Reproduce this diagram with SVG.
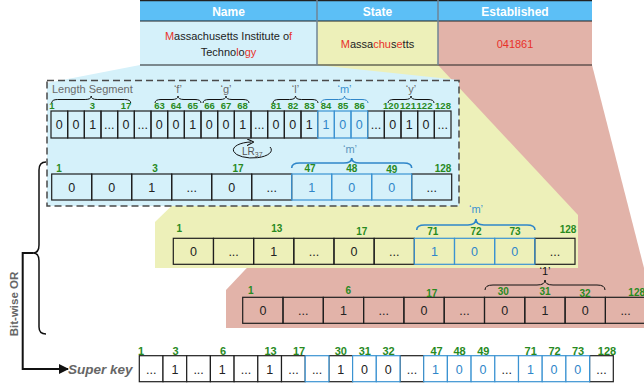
<svg xmlns="http://www.w3.org/2000/svg" width="644" height="389" viewBox="0 0 644 389">
<defs>
<style>
text{font-family:"Liberation Sans",Arial,Helvetica,sans-serif}
.c{fill:none;stroke:#1e1e1e;stroke-width:1.2}
.cb{fill:none;stroke:#3b93d2;stroke-width:1.2}
.cw{fill:#fff;stroke:#1e1e1e;stroke-width:1.2}
.cwb{fill:#fff;stroke:#3b93d2;stroke-width:1.2}
.t{font-size:12.5px;fill:#222;text-anchor:middle}
.tb{font-size:12.5px;fill:#2f86c9;text-anchor:middle}
.n{font-size:10px;font-weight:bold;fill:#288a1e;text-anchor:middle}
.n1{font-size:9.5px;font-weight:bold;fill:#288a1e;text-anchor:middle}
.ns{font-size:11px;font-weight:bold;fill:#288a1e;text-anchor:middle}
.br{fill:none;stroke:#111;stroke-width:1}
.brb{fill:none;stroke:#2f86c9;stroke-width:1.6}
.g{font-size:11px;fill:#6b6b6b}
.q{font-size:11px;fill:#6b6b6b;text-anchor:middle}
.qb{font-size:11px;fill:#3b93d2;text-anchor:middle}
.h{font-size:12px;font-weight:bold;fill:#fff;text-anchor:middle}
.r{fill:#e8312a}
</style>
<marker id="ah" viewBox="0 0 10 10" refX="9" refY="5" markerWidth="10" markerHeight="10" markerUnits="userSpaceOnUse" orient="auto">
<path d="M0,0 L10,5 L0,10 z" fill="#111"/>
</marker>
<marker id="ah2" viewBox="0 0 10 10" refX="6" refY="5" markerWidth="7" markerHeight="7" markerUnits="userSpaceOnUse" orient="auto">
<path d="M0,0 L10,5 L0,10" fill="none" stroke="#111" stroke-width="1.6"/>
</marker>
</defs>

<g id="regions">
<polygon points="438,65 592,65 644,268 644,328 226,328 226,290" fill="#e2b3a9"/>
<polygon points="317,65 438,65 578,215 578,268 155,268 155,222" fill="#edf0b9"/>
<polygon points="140,65 317,65 459,80 459,206 47,206 47,83" fill="#d5f1fa"/>
</g>

<g id="table">
<rect x="140" y="0" width="452" height="21" fill="#5cbff6"/>
<rect x="140" y="21" width="177" height="44" fill="#d5f1fa"/>
<rect x="317" y="21" width="121" height="44" fill="#edf0b9"/>
<rect x="438" y="21" width="154" height="44" fill="#e2b3a9"/>
<line x1="140" y1="0.6" x2="592" y2="0.6" stroke="#222" stroke-width="1.2"/>
<line x1="140" y1="21" x2="592" y2="21" stroke="#222" stroke-width="1.2"/>
<line x1="140" y1="65" x2="592" y2="65" stroke="#222" stroke-width="1.2"/>
<line x1="317" y1="0" x2="317" y2="65" stroke="#6f8496" stroke-width="1.5"/>
<line x1="438" y1="0" x2="438" y2="65" stroke="#6f8496" stroke-width="1.5"/>
<text class="h" x="228.5" y="15.5">Name</text>
<text class="h" x="377.5" y="15.5">State</text>
<text class="h" x="515" y="15.5">Established</text>
<text x="228.5" y="40" font-size="11" fill="#222" text-anchor="middle"><tspan class="r">M</tspan>assachusetts Institute o<tspan class="r">f</tspan></text>
<text x="228.5" y="55.5" font-size="11" fill="#222" text-anchor="middle">Techno<tspan class="r">l</tspan>o<tspan class="r">gy</tspan></text>
<text x="377.5" y="48" font-size="11" fill="#222" text-anchor="middle"><tspan class="r">M</tspan>assa<tspan class="r">chu</tspan>s<tspan class="r">e</tspan>tts</text>
<text x="515" y="48" font-size="11" fill="#e8312a" text-anchor="middle">041861</text>
</g>

<g id="segment-box">
<rect x="47" y="80.5" width="412" height="125.5" fill="none" stroke="#4a4a4a" stroke-width="1.5" stroke-dasharray="7,4"/>
</g>

<g id="array1">
<rect class="c" x="51" y="111" width="16.67" height="27"/>
<rect class="c" x="67.67" y="111" width="16.67" height="27"/>
<rect class="c" x="84.33" y="111" width="16.67" height="27"/>
<rect class="c" x="101" y="111" width="16.67" height="27"/>
<rect class="c" x="117.67" y="111" width="16.67" height="27"/>
<rect class="c" x="134.33" y="111" width="16.67" height="27"/>
<rect class="c" x="151" y="111" width="16.67" height="27"/>
<rect class="c" x="167.67" y="111" width="16.67" height="27"/>
<rect class="c" x="184.33" y="111" width="16.67" height="27"/>
<rect class="c" x="201" y="111" width="16.67" height="27"/>
<rect class="c" x="217.67" y="111" width="16.67" height="27"/>
<rect class="c" x="234.33" y="111" width="16.67" height="27"/>
<rect class="c" x="251" y="111" width="16.67" height="27"/>
<rect class="c" x="267.67" y="111" width="16.67" height="27"/>
<rect class="c" x="284.33" y="111" width="16.67" height="27"/>
<rect class="c" x="301" y="111" width="16.67" height="27"/>
<rect class="c" x="367.67" y="111" width="16.67" height="27"/>
<rect class="c" x="384.33" y="111" width="16.67" height="27"/>
<rect class="c" x="401" y="111" width="16.67" height="27"/>
<rect class="c" x="417.67" y="111" width="16.67" height="27"/>
<rect class="c" x="434.33" y="111" width="16.67" height="27"/>
<rect class="cb" x="317.67" y="111" width="16.67" height="27"/>
<rect class="cb" x="334.33" y="111" width="16.67" height="27"/>
<rect class="cb" x="351" y="111" width="16.67" height="27"/>
<text class="t" x="59.33" y="129">0</text>
<text class="t" x="76" y="129">0</text>
<text class="t" x="92.67" y="129">1</text>
<text class="t" x="109.33" y="129">...</text>
<text class="t" x="126" y="129">0</text>
<text class="t" x="142.67" y="129">...</text>
<text class="t" x="159.33" y="129">0</text>
<text class="t" x="176" y="129">0</text>
<text class="t" x="192.67" y="129">1</text>
<text class="t" x="209.33" y="129">0</text>
<text class="t" x="226" y="129">0</text>
<text class="t" x="242.67" y="129">1</text>
<text class="t" x="259.33" y="129">...</text>
<text class="t" x="276" y="129">0</text>
<text class="t" x="292.67" y="129">0</text>
<text class="t" x="309.33" y="129">1</text>
<text class="tb" x="326" y="129">1</text>
<text class="tb" x="342.67" y="129">0</text>
<text class="tb" x="359.33" y="129">0</text>
<text class="t" x="376" y="129">...</text>
<text class="t" x="392.67" y="129">0</text>
<text class="t" x="409.33" y="129">1</text>
<text class="t" x="426" y="129">0</text>
<text class="t" x="442.67" y="129">...</text>
<text class="n1" x="52" y="109">1</text>
<text class="n1" x="92.5" y="109">3</text>
<text class="n1" x="126" y="109">17</text>
<text class="n1" x="159.5" y="109">63</text>
<text class="n1" x="176" y="109">64</text>
<text class="n1" x="192.7" y="109">65</text>
<text class="n1" x="209.5" y="109">66</text>
<text class="n1" x="226" y="109">67</text>
<text class="n1" x="242.5" y="109">68</text>
<text class="n1" x="276" y="109">81</text>
<text class="n1" x="293" y="109">82</text>
<text class="n1" x="309.5" y="109">83</text>
<text class="n1" x="326" y="109">84</text>
<text class="n1" x="343" y="109">85</text>
<text class="n1" x="359.5" y="109">86</text>
<text class="n1" x="391" y="109">120</text>
<text class="n1" x="408" y="109">121</text>
<text class="n1" x="424.5" y="109">122</text>
<text class="n1" x="443" y="109">128</text>
<path class="br" d="M51.7,103 Q51.7,99.5 57.7,99.5 L85.2,99.5 Q91.2,99.5 91.2,96 Q91.2,99.5 97.2,99.5 L124.7,99.5 Q130.7,99.5 130.7,103"/>
<path class="br" d="M155,103 Q155,99.5 161,99.5 L172,99.5 Q178,99.5 178,96 Q178,99.5 184,99.5 L195,99.5 Q201,99.5 201,103"/>
<path class="br" d="M203,103 Q203,99.5 209,99.5 L220,99.5 Q226,99.5 226,96 Q226,99.5 232,99.5 L243,99.5 Q249,99.5 249,103"/>
<path class="br" d="M273,103 Q273,99.5 279,99.5 L289.5,99.5 Q295.5,99.5 295.5,96 Q295.5,99.5 301.5,99.5 L312,99.5 Q318,99.5 318,103"/>
<path class="brb" style="stroke-width:1" d="M321,103 Q321,99.5 327,99.5 L338.5,99.5 Q344.5,99.5 344.5,96 Q344.5,99.5 350.5,99.5 L362,99.5 Q368,99.5 368,103"/>
<path class="br" d="M388,103 Q388,99.5 394,99.5 L405,99.5 Q411,99.5 411,96 Q411,99.5 417,99.5 L428,99.5 Q434,99.5 434,103"/>
<text class="g" x="52" y="92.5">Length Segment</text>
<text class="q" x="178" y="93">‘f’</text>
<text class="q" x="226" y="93">‘g’</text>
<text class="q" x="295.5" y="93">‘l’</text>
<text class="qb" x="344.5" y="93">‘m’</text>
<text class="q" x="411" y="93">‘y’</text>
</g>

<g id="rotation">
<path d="M270,147 A19,8 0 1,1 251,142" fill="none" stroke="#111" stroke-width="1" marker-end="url(#ah2)"/>
<text x="242" y="155" font-size="10" fill="#555">LR<tspan font-size="7" dy="2">37</tspan></text>
</g>

<g id="array2">
<rect class="c" x="51.7" y="174" width="40" height="26"/>
<rect class="c" x="91.7" y="174" width="40" height="26"/>
<rect class="c" x="131.7" y="174" width="40" height="26"/>
<rect class="c" x="171.7" y="174" width="40" height="26"/>
<rect class="c" x="211.7" y="174" width="40" height="26"/>
<rect class="c" x="251.7" y="174" width="40" height="26"/>
<rect class="c" x="411.7" y="174" width="40" height="26"/>
<rect class="cb" x="291.7" y="174" width="40" height="26"/>
<rect class="cb" x="331.7" y="174" width="40" height="26"/>
<rect class="cb" x="371.7" y="174" width="40" height="26"/>
<text class="t" x="71.7" y="191.5">0</text>
<text class="t" x="111.7" y="191.5">0</text>
<text class="t" x="151.7" y="191.5">1</text>
<text class="t" x="191.7" y="191.5">...</text>
<text class="t" x="231.7" y="191.5">0</text>
<text class="t" x="271.7" y="191.5">...</text>
<text class="tb" x="311.7" y="191.5">1</text>
<text class="tb" x="351.7" y="191.5">0</text>
<text class="tb" x="391.7" y="191.5">0</text>
<text class="t" x="431.7" y="191.5">...</text>
<text class="n" x="59" y="171.5">1</text>
<text class="n" x="155" y="171.5">3</text>
<text class="n" x="238" y="171.5">17</text>
<text class="n" x="310" y="171.5">47</text>
<text class="n" x="351.7" y="171.5">48</text>
<text class="n" x="391.7" y="173">49</text>
<text class="n" x="443" y="171.5">128</text>
<path class="brb" d="M291.7,168 Q291.7,163 299.7,163 L343.7,163 Q351.7,163 351.7,158 Q351.7,163 359.7,163 L403.7,163 Q411.7,163 411.7,168"/>
<text class="q" x="350" y="153" style="fill:#5b95bd">‘m’</text>
</g>

<g id="array3">
<rect class="c" x="173.3" y="238.3" width="40.17" height="26"/>
<rect class="c" x="213.47" y="238.3" width="40.17" height="26"/>
<rect class="c" x="253.64" y="238.3" width="40.17" height="26"/>
<rect class="c" x="293.81" y="238.3" width="40.17" height="26"/>
<rect class="c" x="333.98" y="238.3" width="40.17" height="26"/>
<rect class="c" x="374.15" y="238.3" width="40.17" height="26"/>
<rect class="c" x="534.83" y="238.3" width="40.17" height="26"/>
<rect class="cb" x="414.32" y="238.3" width="40.17" height="26"/>
<rect class="cb" x="454.49" y="238.3" width="40.17" height="26"/>
<rect class="cb" x="494.66" y="238.3" width="40.17" height="26"/>
<text class="t" x="193.4" y="256">0</text>
<text class="t" x="233.6" y="256">...</text>
<text class="t" x="273.7" y="256">1</text>
<text class="t" x="313.9" y="256">...</text>
<text class="t" x="354.1" y="256">0</text>
<text class="t" x="394.2" y="256">...</text>
<text class="tb" x="434.4" y="256">1</text>
<text class="tb" x="474.6" y="256">0</text>
<text class="tb" x="514.8" y="256">0</text>
<text class="t" x="554.9" y="256">...</text>
<text class="n" x="179.3" y="232">1</text>
<text class="n" x="276.7" y="232">13</text>
<text class="n" x="361.7" y="235">17</text>
<text class="n" x="432.7" y="235">71</text>
<text class="n" x="476" y="235">72</text>
<text class="n" x="515" y="235">73</text>
<text class="n" x="568" y="233">128</text>
<path class="brb" d="M416.7,230 Q416.7,225 424.7,225 L467.9,225 Q475.9,225 475.9,219 Q475.9,225 483.9,225 L527,225 Q535,225 535,230"/>
<text class="qb" x="476" y="213">‘m’</text>
</g>

<g id="array4">
<rect class="c" x="242.7" y="297.3" width="40.3" height="26"/>
<rect class="c" x="283" y="297.3" width="40.3" height="26"/>
<rect class="c" x="323.3" y="297.3" width="40.3" height="26"/>
<rect class="c" x="363.6" y="297.3" width="40.3" height="26"/>
<rect class="c" x="403.9" y="297.3" width="40.3" height="26"/>
<rect class="c" x="444.2" y="297.3" width="40.3" height="26"/>
<rect class="c" x="484.5" y="297.3" width="40.3" height="26"/>
<rect class="c" x="524.8" y="297.3" width="40.3" height="26"/>
<rect class="c" x="565.1" y="297.3" width="40.3" height="26"/>
<rect class="c" x="605.4" y="297.3" width="40.3" height="26"/>
<text class="t" x="262.9" y="315">0</text>
<text class="t" x="303.2" y="315">...</text>
<text class="t" x="343.5" y="315">1</text>
<text class="t" x="383.8" y="315">...</text>
<text class="t" x="424.1" y="315">0</text>
<text class="t" x="464.4" y="315">...</text>
<text class="t" x="504.7" y="315">0</text>
<text class="t" x="545" y="315">1</text>
<text class="t" x="585.3" y="315">0</text>
<text class="t" x="625.6" y="315">...</text>
<text class="n" x="250.7" y="294">1</text>
<text class="n" x="348.3" y="294">6</text>
<text class="n" x="431.7" y="297">17</text>
<text class="n" x="503.3" y="295">30</text>
<text class="n" x="545" y="295">31</text>
<text class="n" x="585" y="297">32</text>
<text class="n" x="636.7" y="296">128</text>
<path class="br" d="M485,290 Q485,285 493,285 L537,285 Q545,285 545,280 Q545,285 553,285 L597,285 Q605,285 605,290"/>
<text x="545" y="275" font-size="11" fill="#111" text-anchor="middle">‘1’</text>
</g>

<g id="superkey">
<rect class="cw" x="139.3" y="355.7" width="23.7" height="26"/>
<rect class="cw" x="163" y="355.7" width="23.7" height="26"/>
<rect class="cw" x="186.7" y="355.7" width="23.7" height="26"/>
<rect class="cw" x="210.4" y="355.7" width="23.7" height="26"/>
<rect class="cw" x="234.1" y="355.7" width="23.7" height="26"/>
<rect class="cw" x="257.8" y="355.7" width="23.7" height="26"/>
<rect class="cw" x="281.5" y="355.7" width="23.7" height="26"/>
<rect class="cw" x="328.9" y="355.7" width="23.7" height="26"/>
<rect class="cw" x="400" y="355.7" width="23.7" height="26"/>
<rect class="cw" x="589.6" y="355.7" width="23.7" height="26"/>
<rect class="cwb" x="305.2" y="355.7" width="23.7" height="26"/>
<rect class="cwb" x="352.6" y="355.7" width="23.7" height="26"/>
<rect class="cwb" x="376.3" y="355.7" width="23.7" height="26"/>
<rect class="cwb" x="423.7" y="355.7" width="23.7" height="26"/>
<rect class="cwb" x="447.4" y="355.7" width="23.7" height="26"/>
<rect class="cwb" x="471.1" y="355.7" width="23.7" height="26"/>
<rect class="cwb" x="494.8" y="355.7" width="23.7" height="26"/>
<rect class="cwb" x="518.5" y="355.7" width="23.7" height="26"/>
<rect class="cwb" x="542.2" y="355.7" width="23.7" height="26"/>
<rect class="cwb" x="565.9" y="355.7" width="23.7" height="26"/>
<text class="t" x="151.2" y="374">...</text>
<text class="t" x="174.9" y="374">1</text>
<text class="t" x="198.6" y="374">...</text>
<text class="t" x="222.3" y="374">1</text>
<text class="t" x="246" y="374">...</text>
<text class="t" x="269.7" y="374">1</text>
<text class="t" x="293.4" y="374">...</text>
<text class="t" x="317.1" y="374">...</text>
<text class="t" x="340.8" y="374">1</text>
<text class="t" x="364.5" y="374">0</text>
<text class="t" x="388.2" y="374">0</text>
<text class="t" x="411.9" y="374">...</text>
<text class="tb" x="435.6" y="374">1</text>
<text class="tb" x="459.3" y="374">0</text>
<text class="tb" x="483" y="374">0</text>
<text class="t" x="506.7" y="374">...</text>
<text class="tb" x="530.4" y="374">1</text>
<text class="tb" x="554.1" y="374">0</text>
<text class="tb" x="577.8" y="374">0</text>
<text class="t" x="601.5" y="374">...</text>
<text class="ns" x="141" y="354.5">1</text>
<text class="ns" x="175.5" y="354.5">3</text>
<text class="ns" x="223" y="354.5">6</text>
<text class="ns" x="270.5" y="354.5">13</text>
<text class="ns" x="299" y="354.5">17</text>
<text class="ns" x="340.8" y="354.5">30</text>
<text class="ns" x="364.8" y="354.5">31</text>
<text class="ns" x="388.5" y="354.5">32</text>
<text class="ns" x="436.5" y="354.5">47</text>
<text class="ns" x="459.5" y="354.5">48</text>
<text class="ns" x="483.3" y="354.5">49</text>
<text class="ns" x="530.7" y="354.5">71</text>
<text class="ns" x="554.5" y="354.5">72</text>
<text class="ns" x="578" y="354.5">73</text>
<text class="ns" x="607" y="354.5">128</text>
<text x="68" y="374" font-size="13.5" font-weight="bold" font-style="italic" fill="#666">Super key</text>
</g>

<g id="connectors">
<path d="M46,162 Q39,162 39,170 L39,245 Q39,253 33,253 Q39,253 39,261 L39,327 Q39,334 46,334" fill="none" stroke="#111" stroke-width="1.5"/>
<polyline points="33,253 22.7,253 22.7,369 68,369" fill="none" stroke="#111" stroke-width="2" marker-end="url(#ah)"/>
<text transform="translate(17.5,304) rotate(-90)" font-size="11.5" font-weight="bold" fill="#666" text-anchor="middle">Bit-wise OR</text>
</g>
</svg>
